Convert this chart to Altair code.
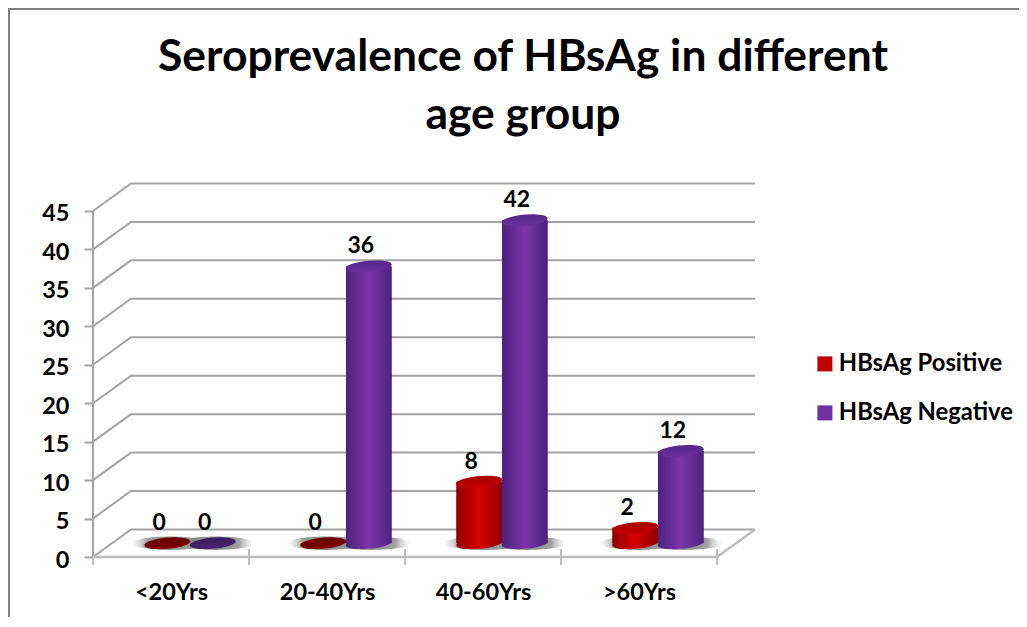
import json
import altair as alt
import pandas as pd

categories = ["<20Yrs", "20-40Yrs", "40-60Yrs", ">60Yrs"]
positive = [0, 0, 8, 2]
negative = [0, 36, 42, 12]
y_ticks = [0, 5, 10, 15, 20, 25, 30, 35, 40, 45]
series_names = ["HBsAg Positive", "HBsAg Negative"]
title_lines = ["Seroprevalence of HBsAg in different", "age group"]

# 3-D projection depth, in axis units
DEPTH_X = 38 / 156
DEPTH_Y = 27.5 / 7.69
BAR_HALF = 0.146
FONT = "Lato"
GRID = "#a3a3a3"

label_expr = json.dumps(categories) + "[floor(datum.value)]"
xscale = alt.Scale(domain=[0, 664 / 156], nice=False, zero=False)
yscale = alt.Scale(domain=[0, 375 / 7.69], nice=False, zero=False)
x_axis = alt.Axis(
    values=[0.5, 1.5, 2.5, 3.5], labelExpr=label_expr, tickSize=0, domain=False, grid=False, title=None,
    labelFont=FONT, labelFontWeight="bold", labelFontSize=23.5, labelColor="#000000",
    labelPadding=23, labelOverlap=False, labelFlush=False, labelBound=False)
y_axis = alt.Axis(
    values=y_ticks, tickSize=9, tickWidth=2, tickColor=GRID, domain=False, grid=False, title=None,
    labelFont=FONT, labelFontWeight="bold", labelFontSize=23.5, labelColor="#000000",
    labelPadding=15, labelOffset=3, labelOverlap=False, labelFlush=False, labelBound=False)


def xe(field):
    return alt.X(field, scale=xscale, axis=x_axis, title=None)


def ye(field):
    return alt.Y(field, scale=yscale, axis=y_axis, title=None)


X = xe("x:Q")
Y = ye("y:Q")

# wall and floor lines
grid_rows = []
for t in y_ticks:
    grid_rows += [
        {"id": t, "x": 0, "y": t},
        {"id": t, "x": DEPTH_X, "y": t + DEPTH_Y},
        {"id": t, "x": 4 + DEPTH_X, "y": t + DEPTH_Y},
    ]
floor_rows = [
    {"id": "f", "x": 0, "y": 0},
    {"id": "f", "x": 4, "y": 0},
    {"id": "f", "x": 4 + DEPTH_X, "y": DEPTH_Y},
]

grid = alt.Chart(pd.DataFrame(grid_rows)).mark_line(color=GRID, strokeWidth=2).encode(x=X, y=Y, detail="id:N")
floor = alt.Chart(pd.DataFrame(floor_rows)).mark_line(color="#bdbdbd", strokeWidth=2.5).encode(x=X, y=Y, detail="id:N")
left_axis = alt.Chart(pd.DataFrame({"x": [0], "y": [0], "y2": [45]})).mark_rule(color=GRID, strokeWidth=2).encode(
    x=X, y=Y, y2="y2:Q")
x_ticks = alt.Chart(pd.DataFrame({"x": [0, 1, 2, 3, 4], "y": [0] * 5})).mark_tick(
    color=GRID, thickness=2, size=16, orient="vertical").encode(x=X, y=Y)

# cylinders
rows = []
for i, cat in enumerate(categories):
    for j, (name, vals) in enumerate(zip(series_names, (positive, negative))):
        c = i + 0.5 + DEPTH_X / 2 + (j - 0.5) * 2 * BAR_HALF
        rows.append({
            "cat": cat, "series": name, "v": vals[i], "x": c,
            "xl": c - BAR_HALF, "xr": c + BAR_HALF,
            "base": DEPTH_Y / 2, "y": vals[i] + DEPTH_Y / 2,
        })
df = pd.DataFrame(rows)

ELLIPSE = "M-0.996,0.087 A1,0.24,-5,1,1,0.996,-0.087 A1,0.24,-5,1,1,-0.996,0.087 Z"
SHADOW = "M-1,0 A1,0.17,0,1,1,1,0 A1,0.17,0,1,1,-1,0 Z"
SIZE = 46 ** 2


def hgrad(edge, mid):
    return {"gradient": "linear", "x1": 0, "y1": 0, "x2": 1, "y2": 0, "stops": [
        {"offset": 0, "color": edge}, {"offset": 0.5, "color": mid}, {"offset": 1, "color": edge}]}


def vgrad(a, b):
    return {"gradient": "linear", "x1": 0, "y1": 0, "x2": 0, "y2": 1, "stops": [
        {"offset": 0, "color": a}, {"offset": 1, "color": b}]}


shadow_fill = {"gradient": "radial", "x1": 0.5, "y1": 0.5, "r1": 0, "x2": 0.5, "y2": 0.5, "r2": 0.5, "stops": [
    {"offset": 0, "color": "rgba(110,110,110,0.85)"},
    {"offset": 0.6, "color": "rgba(120,120,120,0.7)"},
    {"offset": 1, "color": "rgba(200,200,200,0)"}]}

base = alt.Chart(df)
shadow = base.mark_point(filled=True, shape=SHADOW, size=78 ** 2, color=shadow_fill, opacity=1, strokeWidth=0,
                         xOffset=3).encode(x=X, y=ye("base:Q"))

flat_bars = base.mark_bar().encode(
    x=xe("xl:Q"), x2="xr:Q", y=ye("base:Q"), y2="y:Q",
    color=alt.Color("series:N", scale=alt.Scale(domain=series_names, range=["#c00000", "#7030a0"]),
                    legend=alt.Legend(orient="none", legendX=720, legendY=170, title=None,
                                      symbolType="square", symbolSize=225, symbolStrokeWidth=0, symbolOpacity=1,
                                      labelFont=FONT, labelFontWeight="bold", labelFontSize=23.8,
                                      labelColor="#000000", labelLimit=300, labelOffset=2,
                                      rowPadding=24)),
)


def cylinder(name, edge, mid, top_a, top_b, flat_a, flat_b):
    part = base.transform_filter(alt.datum.series == name)
    body_fill = hgrad(edge, mid)
    bottom = part.transform_filter("datum.v > 0").mark_point(
        filled=True, shape=ELLIPSE, size=SIZE, color=body_fill, opacity=1, strokeWidth=0
    ).encode(x=X, y=ye("base:Q"))
    body = part.transform_filter("datum.v > 0").mark_bar(color=body_fill).encode(
        x=xe("xl:Q"), x2="xr:Q", y=ye("base:Q"), y2="y:Q")
    top = part.transform_filter("datum.v > 0").mark_point(
        filled=True, shape=ELLIPSE, size=SIZE, color=vgrad(top_a, top_b), opacity=1, strokeWidth=0
    ).encode(x=X, y=Y)
    flat = part.transform_filter("datum.v == 0").mark_point(
        filled=True, shape=ELLIPSE, size=SIZE, color=vgrad(flat_a, flat_b), opacity=1, strokeWidth=0
    ).encode(x=X, y=Y)
    return [bottom, body, top, flat]


labels = base.mark_text(font=FONT, fontWeight="bold", fontSize=23, color="#000000", dx=-8, dy=-20,
                        baseline="middle").encode(x=X, y=Y, text="v:Q")

frame_left = alt.Chart(pd.DataFrame({"a": [0]})).mark_rule(color="#808080", strokeWidth=2).encode(
    x=alt.value(-84), y=alt.value(-173), y2=alt.value(437))
frame_top = alt.Chart(pd.DataFrame({"a": [0]})).mark_rule(color="#808080", strokeWidth=2).encode(
    x=alt.value(-85), x2=alt.value(926), y=alt.value(-173))

chart = alt.layer(
    frame_left, frame_top, grid, left_axis, x_ticks, floor, shadow, flat_bars,
    *cylinder("HBsAg Positive", "#8f0000", "#d80000", "#a80000", "#c00000", "#6a0000", "#7a0000"),
    *cylinder("HBsAg Negative", "#4e2180", "#7b35a8", "#55268a", "#6a2f9c", "#3a1c5c", "#46236e"),
    labels,
).properties(
    width=664,
    height=375,
    padding={"left": 85, "top": 174, "right": 262, "bottom": 60},
    autosize=alt.AutoSizeParams(type="none"),
    title=alt.TitleParams(text=title_lines, font=FONT, fontWeight="bold", fontSize=44.4, color="#000000",
                          anchor="middle", dx=98, offset=-130, lineHeight=58),
).configure_view(stroke=None)

chart.save("out.html", embed_options={"renderer": "svg", "actions": False})
